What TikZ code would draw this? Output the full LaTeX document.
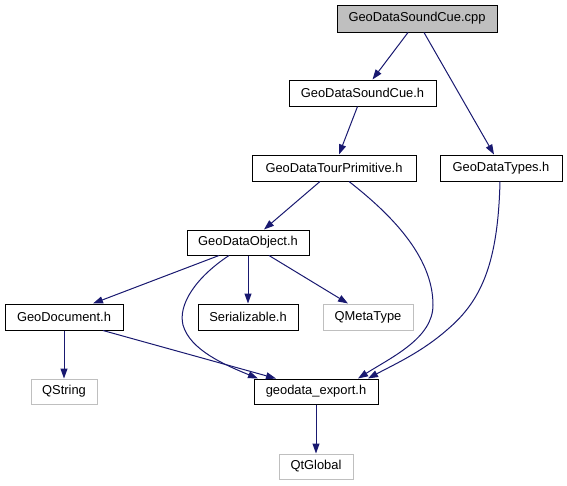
\documentclass[tikz,border=0pt]{standalone}
\usepackage{fontspec}
\setmainfont{Liberation Sans}
\usetikzlibrary{arrows.meta}
\definecolor{edgeblue}{HTML}{191970}
\definecolor{lgray}{HTML}{BFBFBF}
\begin{document}
\begin{tikzpicture}[x=1pt,y=-1pt,
  box/.style={draw=black,line width=1pt,rectangle,inner sep=0pt,minimum height=26pt,
    font=\fontsize{12.9}{15}\selectfont,text=black,fill=white},
  ext/.style={box,draw=lgray},
  startbox/.style={box,fill=lgray},
  dep/.style={draw=edgeblue,line width=1pt,-{Triangle[length=10pt,width=7pt]},fill=none}]
\useasboundingbox (0,0) rectangle (567,485);
\node[startbox,minimum width=160pt,minimum height=27pt] (cpp) at (417,18.5) {GeoDataSoundCue.cpp};
\node[box,minimum width=147pt] (sch) at (362.5,93) {GeoDataSoundCue.h};
\node[box,minimum width=164pt] (tour) at (334,168) {GeoDataTourPrimitive.h};
\node[box,minimum width=122pt] (types) at (501,168) {GeoDataTypes.h};
\node[box,minimum width=122pt,minimum height=25pt] (obj) at (248,242.5) {GeoDataObject.h};
\node[box,minimum width=118pt] (doc) at (64,317) {GeoDocument.h};
\node[box,minimum width=100pt] (ser) at (248,317) {Serializable.h};
\node[ext,minimum width=90pt] (qmeta) at (368,317) {QMetaType};
\node[ext,minimum width=66pt,minimum height=25pt] (qstr) at (64,391.5) {QString};
\node[box,minimum width=124pt,minimum height=25pt] (exp) at (316,391.5) {geodata\_export.h};
\node[ext,minimum width=74pt,minimum height=25pt] (qtg) at (316,466.5) {QtGlobal};

\draw[dep] ([xshift=-9pt]cpp.south) -- ([xshift=10pt]sch.north);
\draw[dep] ([xshift=7pt]cpp.south) -- ([xshift=-7pt]types.north);
\draw[dep] ([xshift=-5pt]sch.south) -- ([xshift=5pt]tour.north);
\draw[dep] ([xshift=-14pt]tour.south) -- ([xshift=16pt]obj.north);
\draw[dep] ([xshift=15pt]tour.south) .. controls (388,212) and (433,255) .. (433,305)
  .. controls (433,338) and (392,357) .. ([xshift=42pt]exp.north);
\draw[dep] ([xshift=-1pt]types.south) .. controls (498,262) and (482,300) .. (448,329)
  .. controls (422,352) and (395,364) .. ([xshift=52pt]exp.north);
\draw[dep] ([xshift=-29pt]obj.south) -- ([xshift=29pt]doc.north);
\draw[dep] ([xshift=-19pt]obj.south) .. controls (195,278) and (178,305) .. (183,325)
  .. controls (190,350) and (225,365) .. ([xshift=-58pt]exp.north);
\draw[dep] (obj.south) -- (ser.north);
\draw[dep] ([xshift=21pt]obj.south) -- ([xshift=-20pt]qmeta.north);
\draw[dep] (doc.south) -- (qstr.north);
\draw[dep] ([xshift=39pt]doc.south) -- ([xshift=-40pt]exp.north);
\draw[dep] (exp.south) -- (qtg.north);
\end{tikzpicture}
\end{document}
